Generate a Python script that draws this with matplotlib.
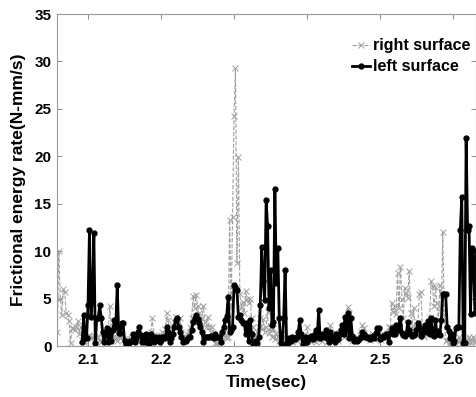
import numpy as np
import matplotlib
matplotlib.use("Agg")
import matplotlib.pyplot as plt

plt.rcParams['font.family'] = ['Liberation Sans', 'DejaVu Sans']
plt.rcParams['font.weight'] = 'bold'

# sampling: one value every 2 ms starting at 2.058 s
t0 = 2.058
dt = 0.002

# right surface (grey dashed, x markers)
right_surface = [
    1.5, 10.0, 5.0, 3.3, 6.0, 5.7, 3.5, 3.3, 2.6, 0.3,
    1.9, 1.9, 1.7, 2.0, 2.6, 1.3, 2.0, 0.6, 0.4, 0.5,
    0.8, 1.0, 1.2, 0.8, 1.0, 1.1, 0.9, 1.0, 1.0, 0.6,
    0.4, 0.8, 1.0, 1.2, 1.0, 2.0, 4.2, 1.5, 1.0, 0.8,
    0.8, 0.5, 1.0, 0.8, 1.2, 0.6, 0.3, 0.4, 0.8, 0.5,
    0.7, 1.0, 0.6, 0.9, 1.2, 0.8, 0.5, 1.0, 0.7, 0.4,
    0.9, 1.1, 0.6, 0.8, 1.5, 2.9, 1.2, 0.8, 1.0, 0.6,
    0.8, 1.2, 1.5, 1.0, 1.8, 3.5, 2.7, 1.0, 1.5, 2.0,
    2.5, 3.1, 2.5, 2.0, 3.0, 1.5, 1.0, 0.8, 1.0, 1.3,
    1.5, 2.0, 3.0, 5.3, 4.0, 5.4, 4.2, 3.5, 2.5, 3.0,
    4.2, 2.5, 2.0, 3.1, 2.0, 1.5, 2.0, 1.0, 0.3, 0.2,
    0.1, 0.3, 0.5, 1.0, 1.5, 1.0, 0.8, 1.0, 13.3, 4.0,
    13.6, 24.2, 29.3, 8.8, 19.9, 5.5, 4.0, 4.6, 3.5, 5.8,
    5.0, 4.5, 5.0, 3.0, 2.0, 1.0, 0.5, 1.5, 2.0, 3.0,
    1.8, 2.8, 1.5, 2.0, 3.6, 1.4, 2.0, 1.0, 1.9, 0.7,
    1.4, 1.0, 0.5, 1.2, 0.8, 1.5, 0.6, 0.5, 0.8, 1.0,
    0.6, 0.4, 1.0, 0.8, 0.5, 0.9, 1.2, 0.7, 0.4, 0.8,
    1.0, 2.0, 0.9, 0.5, 0.7, 1.0, 0.6, 0.4, 0.8, 1.1,
    0.7, 0.5, 0.9, 1.2, 0.8, 0.4, 0.6, 2.2, 0.9, 1.0,
    1.5, 0.7, 0.5, 0.9, 1.2, 1.6, 1.0, 1.4, 2.0, 4.1,
    3.5, 1.0, 0.5, 0.8, 0.6, 1.0, 0.7, 1.2, 1.5, 2.2,
    1.9, 1.0, 0.8, 1.2, 0.6, 0.9, 1.3, 0.7, 1.0, 1.5,
    0.8, 1.2, 0.6, 1.0, 1.3, 0.9, 1.4, 2.0, 2.0, 4.5,
    3.6, 4.2, 3.4, 7.7, 4.0, 8.3, 5.0, 3.0, 6.1, 5.6,
    5.1, 7.9, 3.5, 1.9, 4.0, 2.0, 1.5, 2.5, 5.5, 5.7,
    2.0, 1.0, 1.5, 2.0, 1.2, 3.0, 6.8, 6.3, 4.2, 6.2,
    4.5, 2.7, 6.4, 4.0, 12.0, 3.4, 0.5, 0.6, 0.2, 0.5,
    0.3, 0.8, 0.4, 0.2, 0.6, 1.0, 0.5, 0.3, 0.2, 0.8,
    0.5, 0.4, 0.9, 0.3, 0.6, 1.0, 0.5, 0.4,
]

# left surface (black solid, dots); no data before ~2.092 s
nan = np.nan
left_surface = [
    nan, nan, nan, nan, nan, nan, nan, nan, nan, nan,
    nan, nan, nan, nan, nan, nan, nan, 0.4, 3.3, 0.8,
    0.8, 4.3, 12.2, 3.1, 4.8, 11.9, 0.3, 3.0, 3.0, 4.3,
    3.0, 1.5, 0.4, 1.2, 1.9, 0.4, 1.7, 0.5, 1.7, 2.7,
    2.0, 6.4, 1.4, 1.4, 2.4, 2.4, 0.5, 0.2, 0.2, 0.3,
    0.5, 0.5, 1.3, 0.4, 0.8, 1.5, 2.0, 1.2, 0.4, 1.1,
    0.4, 1.3, 0.6, 0.2, 1.3, 0.8, 0.4, 1.0, 0.6, 1.0,
    0.4, 0.6, 1.0, 1.0, 0.8, 2.0, 1.5, 0.4, 0.8, 1.3,
    2.0, 2.7, 3.0, 2.0, 1.5, 1.0, 0.4, 0.5, 0.5, 0.7,
    1.0, 1.0, 1.7, 2.5, 3.0, 3.3, 2.8, 2.4, 2.0, 1.5,
    0.4, 1.0, 1.0, 0.9, 1.0, 1.1, 1.0, 0.8, 1.3, 1.0,
    0.9, 1.0, 0.4, 1.5, 2.0, 2.7, 3.2, 5.2, 1.5, 1.7,
    2.0, 6.4, 6.2, 5.9, 3.1, 3.3, 2.7, 2.4, 2.4, 1.3,
    2.4, 0.5, 2.7, 1.3, 0.2, 0.3, 0.5, 0.3, 1.0, 4.3,
    10.4, 6.8, 4.8, 15.4, 12.6, 4.0, 8.0, 2.2, 2.5, 16.6,
    6.6, 10.3, 2.9, 0.3, 0.2, 2.9, 8.0, 0.3, 0.3, 0.8,
    0.5, 1.0, 0.8, 0.7, 1.0, 1.5, 2.7, 1.3, 0.2, 0.8,
    1.0, 0.4, 0.7, 0.8, 1.1, 0.7, 1.2, 1.7, 1.0, 3.8,
    0.8, 1.3, 1.2, 1.0, 1.7, 0.8, 0.4, 1.5, 1.0, 0.7,
    0.4, 1.3, 0.7, 1.2, 1.7, 2.2, 1.3, 3.1, 1.7, 3.5,
    0.8, 3.0, 1.1, 0.5, 0.7, 0.5, 0.6, 0.8, 1.0, 1.5,
    1.3, 0.9, 1.0, 0.8, 0.7, 0.9, 1.1, 0.8, 1.4, 1.9,
    1.9, 0.7, 0.8, 1.1, 0.9, 1.3, 1.2, 0.4, 1.4, 1.9,
    1.3, 1.3, 2.2, 1.7, 2.2, 3.0, 1.4, 1.2, 1.1, 1.3,
    2.5, 1.7, 1.3, 1.1, 1.2, 1.3, 1.7, 2.4, 2.0, 1.1,
    1.3, 1.8, 2.2, 1.5, 2.6, 1.3, 2.9, 1.3, 1.1, 2.7,
    1.3, 1.6, 1.2, 2.7, 5.5, 5.5, 5.5, 2.0, 1.6, 0.8,
    1.3, 0.3, 0.5, 1.9, 2.0, 2.0, 12.2, 15.7, 0.3, 0.3,
    21.9, 12.2, 12.6, 3.4, 10.3, 9.4, 3.5, 10.0,
]

time = t0 + dt * np.arange(len(right_surface))

fig = plt.figure(figsize=(4.77, 3.97), dpi=100)
ax = fig.add_axes([57 / 477, 1 - 346 / 397, 419.5 / 477, 332 / 397])

ax.plot(time, right_surface, color='#a0a0a0', linestyle='--', linewidth=0.8,
        marker='x', markersize=3.8, markeredgewidth=0.7, label='right surface')
ax.plot(time, left_surface, color='black', linestyle='-', linewidth=2.0,
        marker='o', markersize=3.5, label='left surface')

ax.set_xlim(2.0575, 2.6322)
ax.set_ylim(0, 35)
ax.set_xticks([2.1, 2.2, 2.3, 2.4, 2.5, 2.6])
ax.set_yticks(range(0, 36, 5))

ax.tick_params(direction='in', length=3.5, width=0.6, color='#777777',
               top=True, right=True, labelsize=11)
ax.tick_params(axis='x', pad=5)
ax.tick_params(axis='y', pad=4)
for lab in ax.get_xticklabels() + ax.get_yticklabels():
    lab.set_fontweight('bold')
for sp in ax.spines.values():
    sp.set_color('#999999')
    sp.set_linewidth(0.8)

ax.set_xlabel('Time(sec)', fontsize=12.5, fontweight='bold', labelpad=6)
ax.set_ylabel('Frictional energy rate(N-mm/s)', fontsize=12.5, fontweight='bold', labelpad=6)

leg = ax.legend(loc='upper left', bbox_to_anchor=(0.703, 0.927), frameon=False,
                fontsize=11.5, handlelength=1.15, handletextpad=0.18,
                borderpad=0, borderaxespad=0, labelspacing=0.38)
for txt in leg.get_texts():
    txt.set_fontweight('bold')

fig.savefig('out.png', dpi=100)
